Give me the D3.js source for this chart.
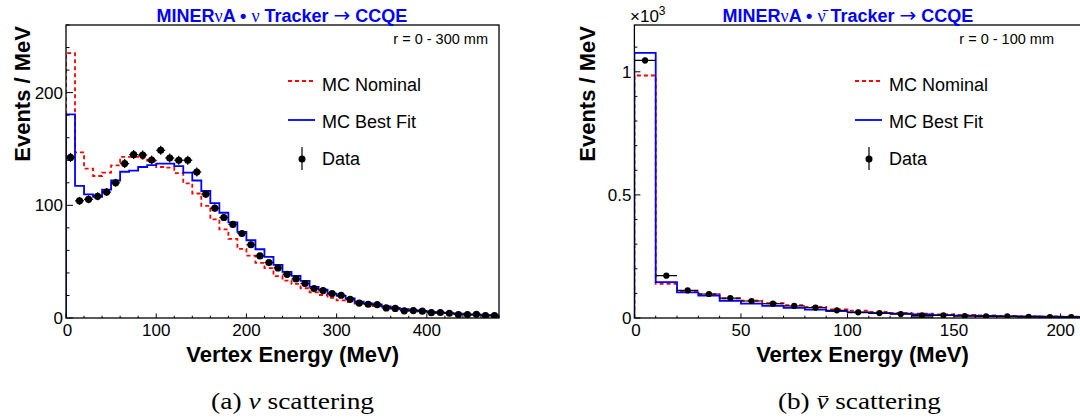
<!DOCTYPE html>
<html><head><meta charset="utf-8">
<script src="https://cdn.jsdelivr.net/npm/d3@7"></script>
<style>body{margin:0;background:#fff} svg{display:block}</style>
</head><body>
<svg id="c" width="1080" height="419"></svg>
<script>
// ---------- neutrino panel (r = 0 - 300 mm), bins of 10 MeV ----------
const nuBinCenters = [5,15,25,35,45,55,65,75,85,95,105,115,125,135,145,155,165,175,185,195,205,215,225,235,245,255,265,275,285,295,305,315,325,335,345,355,365,375,385,395,405,415,425,435,445,455,465,475];
const nuData = [142.5,104,105.3,108,111.7,120,137,145,144.6,140.2,148.8,142,140,140,129.5,110,97.5,89.2,83,75,65,55.1,49.2,44.4,38.8,34.7,30.6,26.1,24.3,21.7,20.2,16.6,13.2,12.2,11.9,8.9,8.5,6.4,6.6,6.1,4.7,4.9,4.2,3,3,3.3,2.1,2.2];
const nuDataErr = [4,3.5,3.5,3.5,3.5,3.5,4,4,4,4,4,4,4,4,4,3.5,3.2,3,3,2.8,2.6,2.4,2.2,2.1,2,1.9,1.8,1.7,1.6,1.5,1.5,1.4,1.3,1.2,1.2,1.1,1.1,1,1,1,0.9,0.9,0.9,0.8,0.8,0.8,0.7,0.7];
const nuNominal = [235,147,132.5,126,129,135.5,143,143,141.7,139.5,134,133.5,128.5,119.5,110.5,99.5,87.5,78.6,70.2,61.3,55.4,48.9,44.2,37.1,33.2,30.2,26.4,22.8,20.4,17.8,15.7,14.2,12.8,11.5,10.6,9.3,8.2,7.2,6.3,5.6,4.9,4.4,3.9,3.4,3.0,2.7,2.4,2.1];
const nuBestFit = [180.7,117.2,109.7,107.6,114,122,129.8,130.7,134,135.7,136.9,136.9,134.8,129,122,112.7,102,93.4,84.8,76.5,69,61,54.2,47.1,40.9,37.3,32.9,27.6,25.2,21.7,19.6,17.5,14.6,13,12,10.2,9,7.9,7,6.2,5.4,4.8,4.3,3.8,3.3,2.9,2.6,2.3];
const nuYTicks = [0,100,200];
const nuXTicks = [0,100,200,300,400];

// ---------- antineutrino panel (r = 0 - 100 mm), values in units of 10^3 ----------
const nubarBinCenters = [5,15,25,35,45,55,65,75,85,95,105,115,125,135,145,155,165,175,185,195,205,215];
const nubarData = [1.046,0.172,0.112,0.0975,0.081,0.069,0.058,0.049,0.042,0.031,0.023,0.020,0.016,0.011,0.011,0.008,0.007,0.007,0.005,0.004,0.004,0.003];
const nubarDataErr = [0.012,0.005,0.004,0.004,0.004,0.003,0.003,0.003,0.003,0.003,0.002,0.002,0.002,0.002,0.002,0.002,0.002,0.002,0.002,0.002,0.002,0.002];
const nubarNominal = [0.985,0.139,0.108,0.097,0.080,0.070,0.060,0.052,0.045,0.035,0.030,0.025,0.021,0.018,0.015,0.013,0.011,0.009,0.007,0.006,0.005,0.005];
const nubarBestFit = [1.077,0.146,0.104,0.0906,0.070,0.058,0.049,0.041,0.034,0.028,0.023,0.020,0.018,0.015,0.012,0.010,0.009,0.007,0.006,0.005,0.004,0.004];
const nubarBkgCenters = [135];
const nubarBkg = [0.012];
const nubarYTicks = [0,0.5,1];
const nubarXTicks = [0,50,100,150,200];

const legendLabels = ["MC Nominal","MC Best Fit","Data"];
const BLUE = "#0000ff", RED = "#ff0000";
const SANS = "'Liberation Sans', Arial, sans-serif";
const SERIF = "'Liberation Serif', 'Times New Roman', serif";

const svg = d3.select("#c");

function panel(o) {
  const g = svg.append("g");
  const x = d3.scaleLinear().domain(o.xDomain).range(o.xRange);
  const y = d3.scaleLinear().domain(o.yDomain).range([318, 25]);
  const half = o.binWidth / 2;
  const clipId = "clip" + o.id;
  svg.append("clipPath").attr("id", clipId).append("rect")
    .attr("x", o.xRange[0]).attr("y", 25).attr("width", o.xRange[1] - o.xRange[0]).attr("height", 293);
  const plot = g.append("g").attr("clip-path", `url(#${clipId})`);

  if (o.bkg) {
    plot.selectAll("rect.bkg").data(o.bkg.c).enter().append("rect")
      .attr("x", (d) => x(d - half)).attr("width", (d) => x(d + half) - x(d - half))
      .attr("y", (d, i) => y(o.bkg.v[i])).attr("height", (d, i) => y(0) - y(o.bkg.v[i]))
      .attr("fill", "#555");
  }

  function stepPath(vals) {
    const pts = [[o.centers[0] - half, 0]];
    vals.forEach((v, i) => { pts.push([o.centers[i] - half, v]); pts.push([o.centers[i] + half, v]); });
    pts.push([o.centers[vals.length - 1] + half, 0]);
    return d3.line().x((d) => x(d[0])).y((d) => y(d[1]))(pts);
  }
  plot.append("path").attr("d", stepPath(o.nominal)).attr("fill", "none")
    .attr("stroke", RED).attr("stroke-width", 1.8).attr("stroke-dasharray", "4,3");
  plot.append("path").attr("d", stepPath(o.best)).attr("fill", "none")
    .attr("stroke", BLUE).attr("stroke-width", 1.8);

  const dg = plot.append("g");
  o.centers.forEach((c, i) => {
    const v = o.data[i], e = o.err[i];
    dg.append("line").attr("x1", x(c - half)).attr("x2", x(c + half)).attr("y1", y(v)).attr("y2", y(v))
      .attr("stroke", "#000").attr("stroke-width", 1.2);
    dg.append("line").attr("x1", x(c)).attr("x2", x(c)).attr("y1", y(v - e)).attr("y2", y(v + e))
      .attr("stroke", "#000").attr("stroke-width", 1.2);
    dg.append("circle").attr("cx", x(c)).attr("cy", y(v)).attr("r", o.r).attr("fill", "#000");
  });

  g.append("rect").attr("x", o.xRange[0]).attr("y", 25).attr("width", o.xRange[1] - o.xRange[0]).attr("height", 293)
    .attr("fill", "none").attr("stroke", "#000").attr("stroke-width", 1.3);

  const ax = g.append("g").attr("stroke", "#000").attr("stroke-width", 1);
  d3.range(o.yDomain[0], o.yDomain[1] + 1e-9, o.yMinor).forEach((t) => {
    const major = o.yTicks.some((m) => Math.abs(m - t) < 1e-6);
    const L = major ? o.yMajLen : o.yMajLen / 2;
    ax.append("line").attr("x1", o.xRange[0]).attr("x2", o.xRange[0] + L).attr("y1", y(t)).attr("y2", y(t));
  });
  d3.range(o.xDomain[0], o.xDomain[1] + 1e-9, o.xMinor).forEach((t) => {
    const major = o.xTicks.some((m) => Math.abs(m - t) < 1e-6);
    const L = major ? 4.5 : 2.3;
    ax.append("line").attr("x1", x(t)).attr("x2", x(t)).attr("y1", 318).attr("y2", 318 - L);
  });
  o.yTicks.forEach((t) => {
    g.append("text").attr("x", o.xRange[0] - 3).attr("y", y(t) + 6).attr("text-anchor", "end")
      .attr("font-family", SANS).attr("font-size", 17).text(t);
  });
  o.xTicks.forEach((t) => {
    g.append("text").attr("x", x(t) + (t === 0 ? 1.5 : 0)).attr("y", 335.5).attr("text-anchor", "middle")
      .attr("font-family", SANS).attr("font-size", 17).text(t);
  });
  g.append("text").attr("transform", `translate(${o.yTitleX},26) rotate(-90)`).attr("text-anchor", "end")
    .attr("font-family", SANS).attr("font-weight", "bold").attr("font-size", 22).text("Events / MeV");
  g.append("text").attr("x", o.xTitleX).attr("y", 362).attr("text-anchor", "middle")
    .attr("font-family", SANS).attr("font-weight", "bold").attr("font-size", 22).text("Vertex Energy (MeV)");

  const tt = g.append("text").attr("x", o.titleX).attr("y", 21.5).attr("text-anchor", "middle")
    .attr("font-family", SANS).attr("font-weight", "bold").attr("font-size", 18).attr("fill", BLUE);
  tt.append("tspan").text("MINER");
  tt.append("tspan").attr("font-family", SERIF).attr("font-weight", "normal").text("ν");
  tt.append("tspan").text("A • ");
  tt.append("tspan").attr("font-family", SERIF).attr("font-weight", "normal").text(o.bar ? "ν\u0304" : "ν");
  tt.append("tspan").text(" Tracker ");
  tt.append("tspan").attr("font-family", "'DejaVu Sans', sans-serif").attr("font-weight", "normal").attr("font-size", 20).text("→");
  tt.append("tspan").text(" CCQE");

  g.append("text").attr("x", o.noteX).attr("y", 43.5).attr("text-anchor", "end")
    .attr("font-family", SANS).attr("font-size", 14.5).text(o.note);

  const lx = o.legX;
  g.append("line").attr("x1", lx).attr("x2", lx + 27).attr("y1", 81).attr("y2", 81)
    .attr("stroke", RED).attr("stroke-width", 1.8).attr("stroke-dasharray", "4,3");
  g.append("line").attr("x1", lx).attr("x2", lx + 27).attr("y1", 120).attr("y2", 120)
    .attr("stroke", BLUE).attr("stroke-width", 1.8);
  g.append("line").attr("x1", lx + 14).attr("x2", lx + 14).attr("y1", 147).attr("y2", 170)
    .attr("stroke", "#000").attr("stroke-width", 1.2);
  g.append("circle").attr("cx", lx + 14).attr("cy", 159).attr("r", 3.5).attr("fill", "#000");
  [90.7, 127.7, 165].forEach((yy, i) => {
    g.append("text").attr("x", lx + 34).attr("y", yy).attr("font-family", SANS).attr("font-size", 18)
      .text(legendLabels[i]);
  });

  const cap = g.append("text").attr("x", o.capX).attr("y", 409).attr("text-anchor", "middle")
    .attr("font-family", SERIF).attr("font-size", 23)
    .attr("textLength", 163).attr("lengthAdjust", "spacingAndGlyphs");
  cap.append("tspan").text(o.capLabel + " ");
  cap.append("tspan").attr("font-style", "italic").text("ν");
  cap.append("tspan").text(" scattering");
  if (o.bar) {
    const node = cap.node();
    const idx = (o.capLabel + " ").length;
    const ext = node.getExtentOfChar(idx);
    const top = ext.y + ext.height * 0.3;
    g.append("line").attr("x1", ext.x + ext.width * 0.22).attr("x2", ext.x + ext.width * 0.95)
      .attr("y1", top).attr("y2", top).attr("stroke", "#000").attr("stroke-width", 1.1);
  }
  return g;
}

panel({
  id: "a", xDomain: [0, 480], xRange: [66, 499], yDomain: [0, 260],
  centers: nuBinCenters, binWidth: 10, data: nuData, err: nuDataErr, nominal: nuNominal, best: nuBestFit,
  r: 3.6, yTicks: nuYTicks, xTicks: nuXTicks, yMinor: 20, xMinor: 20, yMajLen: 7,
  yTitleX: 30, xTitleX: 292.6, titleX: 282, noteX: 488, note: "r = 0 - 300 mm",
  legX: 288, capX: 292.6, capLabel: "(a)", bar: false
});
const pb = panel({
  id: "b", xDomain: [0, 230], xRange: [634.4, 634.4 + 230 * 2.131], yDomain: [0, 1.19],
  centers: nubarBinCenters, binWidth: 10, data: nubarData, err: nubarDataErr, nominal: nubarNominal, best: nubarBestFit,
  bkg: { c: nubarBkgCenters, v: nubarBkg },
  r: 3.1, yTicks: nubarYTicks, xTicks: nubarXTicks, yMinor: 0.1, xMinor: 10, yMajLen: 6,
  yTitleX: 595, xTitleX: 862.5, titleX: 848, noteX: 1054, note: "r = 0 - 100 mm",
  legX: 855, capX: 859.4, capLabel: "(b)", bar: true
});
const ex = pb.append("text").attr("x", 630).attr("y", 22).attr("font-family", SANS).attr("font-size", 17);
ex.append("tspan").text("×10");
ex.append("tspan").attr("font-size", 12).attr("dy", -7).text("3");
</script>
</body></html>
